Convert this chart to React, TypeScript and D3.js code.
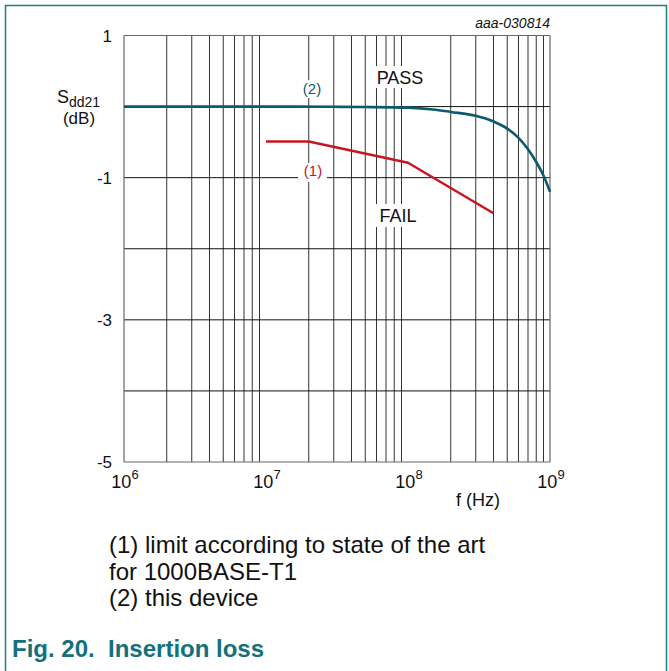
import React from "react";
import * as d3 from "d3";

// ---- data ----
const deviceFreq = [1e6, 3e6, 1e7, 3e7, 5e7, 1e8, 1.5e8, 2e8, 3e8, 4e8, 5e8, 6e8, 7e8, 8e8, 9e8, 1e9];
const deviceSdd21 = [0, 0, 0, -0.003, -0.006, -0.015, -0.04, -0.075, -0.13, -0.21, -0.31, -0.44, -0.6, -0.78, -0.97, -1.2];
const limitFreq = [1e7, 2e7, 1e8, 4e8];
const limitSdd21 = [-0.49, -0.49, -0.79, -1.5];
const yTicks = [1, -1, -3, -5];
const yGrid = [1, 0, -1, -2, -3, -4, -5];
const xDecades = [6, 7, 8, 9];
const captionLines = ["(1) limit according to state of the art", "for 1000BASE-T1", "(2) this device"];

const W = 669;
const H = 671;
const TEAL = "#0b5b6d";
const RED = "#c8161e";
const FRAME = "#1b7f86";
const CAPTION = "#12717a";
const FONT = "'Liberation Sans', Arial, sans-serif";

export default function App() {
  const x = d3.scaleLog().domain([1e6, 1e9]).range([124, 550]);
  const y = d3.scaleLinear().domain([-5, 1]).range([462, 35.5]);

  const minor: number[] = [];
  for (let d = 6; d < 9; d++) {
    for (let m = 2; m <= 9; m++) minor.push(m * Math.pow(10, d));
  }

  const line = d3
    .line<[number, number]>()
    .x((d) => x(d[0]))
    .y((d) => y(d[1]))
    .curve(d3.curveMonotoneX);
  const straight = d3
    .line<[number, number]>()
    .x((d) => x(d[0]))
    .y((d) => y(d[1]));

  const devicePts = deviceFreq.map((f, i) => [f, deviceSdd21[i]] as [number, number]);
  const limitPts = limitFreq.map((f, i) => [f, limitSdd21[i]] as [number, number]);

  const [x0, x1] = x.range();
  const [yb, yt] = y.range();

  return (
    <div style={{ position: "fixed", left: 0, top: 0, width: W, height: H, background: "#fff" }}>
      <svg width={W} height={H} style={{ display: "block", fontFamily: FONT }}>
        <rect x={0} y={0} width={W} height={H} fill="#fff" />
        {/* outer frame */}
        <path d={`M5.5,${H} V5.5 H666.5 V${H}`} fill="none" stroke={FRAME} strokeWidth={1.5} />

        {/* vertical grid */}
        {minor.map((f) => (
          <line key={"v" + f} x1={x(f)} x2={x(f)} y1={yt} y2={yb} stroke="#333" strokeWidth={1} />
        ))}
        {/* horizontal grid */}
        {yGrid.map((v) => (
          <line
            key={"h" + v}
            x1={x0}
            x2={x1}
            y1={y(v)}
            y2={y(v)}
            stroke={v === 1 || v === -5 ? "#666" : "#111"}
            strokeWidth={1}
          />
        ))}
        <line x1={x0} x2={x0} y1={yt} y2={yb} stroke="#666" strokeWidth={1.2} />
        <line x1={x1} x2={x1} y1={yt} y2={yb} stroke="#666" strokeWidth={1.2} />

        {/* label backgrounds */}
        <rect x={372} y={66} width={56} height={22} fill="#fff" />
        <rect x={375} y={204} width={46} height={23} fill="#fff" />
        <rect x={298} y={163} width={29} height={19} fill="#fff" />
        <rect x={302} y={80} width={21} height={18} fill="#fff" />

        {/* curves */}
        <path d={straight(limitPts) || ""} fill="none" stroke={RED} strokeWidth={2.5} strokeLinejoin="round" />
        <path d={line(devicePts) || ""} fill="none" stroke={TEAL} strokeWidth={2.6} strokeLinejoin="round" />

        {/* annotations */}
        <text x={400} y={84} fontSize={18} textAnchor="middle" fill="#111">PASS</text>
        <text x={398} y={222} fontSize={18} textAnchor="middle" fill="#111">FAIL</text>
        <text x={313} y={176} fontSize={15} textAnchor="middle" fill={RED}>(1)</text>
        <text x={312} y={94} fontSize={15} textAnchor="middle" fill={TEAL}>(2)</text>

        {/* y tick labels */}
        {yTicks.map((v) => (
          <text key={"yt" + v} x={112} y={y(v) + 6} fontSize={17} textAnchor="end" fill="#111">
            {v}
          </text>
        ))}
        {/* x tick labels */}
        {xDecades.map((d) => (
          <text key={"xt" + d} x={x(Math.pow(10, d)) + 1} y={488} fontSize={18} textAnchor="middle" fill="#111">
            10
            <tspan dy={-9} fontSize={13}>{d}</tspan>
          </text>
        ))}
        <text x={478} y={506} fontSize={18} textAnchor="middle" fill="#111">f (Hz)</text>

        {/* y axis title */}
        <text x={57} y={103} fontSize={18} fill="#111">
          S<tspan dy={4} fontSize={14}>dd21</tspan>
        </text>
        <text x={79} y={124} fontSize={17} textAnchor="middle" fill="#111">(dB)</text>

        <text x={550} y={28} fontSize={14} textAnchor="end" fontStyle="italic" fill="#111">aaa-030814</text>

        {/* caption */}
        {captionLines.map((t, i) => (
          <text key={"c" + i} x={109} y={553 + i * 26.5} fontSize={24} fill="#111">
            {t}
          </text>
        ))}
        <text x={12} y={657} fontSize={24} fontWeight="bold" fill={CAPTION}>
          Fig. 20.{"\u00a0\u00a0"}Insertion loss
        </text>
      </svg>
    </div>
  );
}
